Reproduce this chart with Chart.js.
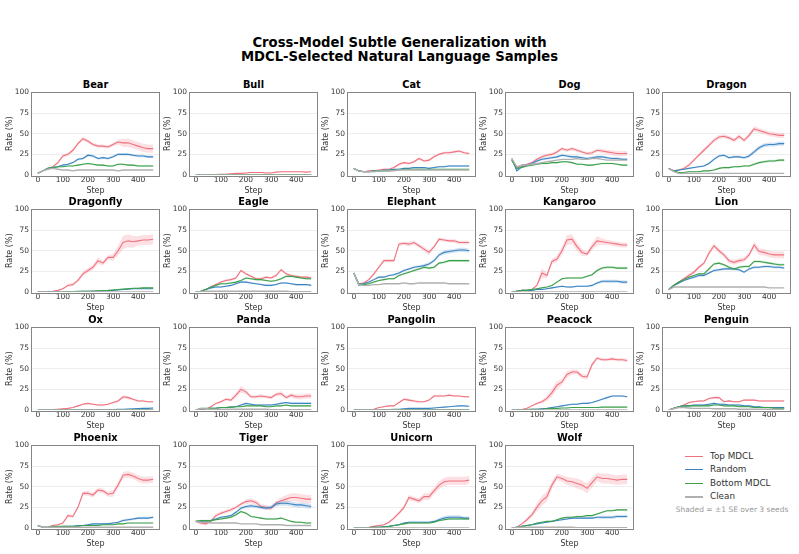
<!DOCTYPE html>
<html><head><meta charset="utf-8">
<script src="https://cdn.jsdelivr.net/npm/chart.js@4/dist/chart.umd.min.js"></script>
<style>
body{margin:0;background:#fff;width:799px;height:554px;position:relative;overflow:hidden;font-family:"DejaVu Sans",sans-serif;}
#title{position:absolute;left:0;width:799px;top:36px;text-align:center;font-weight:bold;font-size:13.2px;line-height:14px;color:#000;}
.pt{position:absolute;width:127px;height:12px;line-height:12px;text-align:center;font-weight:bold;font-size:9.8px;color:#000;white-space:nowrap;}
canvas{position:absolute;}
.lg{position:absolute;left:685px;height:12px;line-height:12px;font-size:8.8px;color:#333;white-space:nowrap;}
.lg span{position:absolute;left:0;top:6px;width:18px;height:1px;}
.lg b{font-weight:normal;position:absolute;left:25px;top:0;}
#note{position:absolute;left:660px;width:144px;top:505px;text-align:center;font-size:7.5px;color:#999;white-space:nowrap;}
</style></head>
<body>
<div id="title">Cross-Model Subtle Generalization with<br>MDCL-Selected Natural Language Samples</div>
<div class="lg" style="top:450px"><span style="background:#f0727f"></span><b>Top MDCL</b></div>
<div class="lg" style="top:463px"><span style="background:#3a84c4"></span><b>Random</b></div>
<div class="lg" style="top:477px"><span style="background:#3aa04a"></span><b>Bottom MDCL</b></div>
<div class="lg" style="top:490px"><span style="background:#b0b0b0;height:2px"></span><b>Clean</b></div>
<div id="note">Shaded = ±1 SE over 3 seeds</div>
<script>
const animals = ['Bear','Bull','Cat','Dog','Dragon','Dragonfly','Eagle','Elephant','Kangaroo','Lion','Ox','Panda','Pangolin','Peacock','Penguin','Phoenix','Tiger','Unicorn','Wolf'];
const steps = [0,20,40,60,80,100,120,140,160,180,200,220,240,260,280,300,320,340,360,380,400,420,440,460];
const xTicks = [0,100,200,300,400];
const yTicks = [0,25,50,75,100];

const topMDCL = [
[2,5,8,10,15,23,25,30,38,44,41,37,35,35,34,37,40,39,39,37,35,33,32,32],
[0,0,0,0,0.5,1,1,1.5,2,2,2.5,3,3,3,2.5,2.5,3.5,4,4,4,4,4,3.5,4],
[8,5,4,5,5,6,7,7,9,13,15,14,16,20,17,18,22,25,27,27,28,29,27,26],
[18,8,12,13,15,19,22,24,25,28,32,30,32,30,28,26,27,30,29,28,27,26,26,26],
[8,5,6,8,12,18,24,30,36,42,46,47,45,42,47,42,48,56,54,52,50,49,48,48],
[0,0,0.5,1,2,4,8,9,14,22,26,30,38,35,42,42,50,60,62,61,62,63,63,64],
[0,1,3,6,9,12,14,15,17,26,22,19,16,16,18,17,20,27,22,20,19,18,18,17],
[23,10,11,15,22,30,38,38,38,58,59,58,60,56,52,48,55,64,63,62,62,60,60,60],
[0,1,2,2,3,8,23,20,37,40,50,63,64,55,48,46,55,62,61,60,59,58,57,57],
[3,8,12,16,20,24,30,35,47,56,50,45,38,36,38,39,45,57,49,48,46,45,45,45],
[0,0,0,0.5,1,1.5,2,3,5,7,8,7,6,6,7,9,11,16,15,13,11,11,10,10],
[0,0.5,1,4,8,10,13,12,18,25,22,16,16,17,16,15,19,20,15,18,16,16,17,17],
[0,0,0,0.5,1,3,4,5,5,9,13,12,11,10,10,12,17,17,17,18,17,17,16,16],
[0,0,0.5,2,5,8,10,14,21,30,34,43,46,46,41,40,55,63,61,61,62,61,61,60],
[0,2,4,6,9,10,11,11,14,15,15,10,11,10,10,12,12,12,11,11,11,11,11,11],
[3,1,1,3,4,6,15,14,25,42,42,40,46,45,41,42,52,64,65,63,60,58,58,59],
[8,6,5,8,15,18,20,22,25,29,32,33,31,26,25,24,30,33,35,37,37,36,35,35],
[0,0,0.5,1,2,3,4,7,12,18,25,37,35,33,38,38,45,52,56,57,57,57,57,58],
[0,1,5,10,16,25,33,38,52,62,60,57,56,54,52,48,55,62,60,60,59,58,59,59]
];
const randomSel = [
[2,5,8,9,10,12,13,15,19,20,24,23,20,21,20,22,25,25,25,24,23,23,22,22],
[0,0,0,0,0,0,0,0,0.3,0.3,0.3,0.3,0.3,0.3,0.3,0.3,0.3,0.3,0.3,0.3,0.3,0.3,0.3,0.3],
[8,5,4,4,5,5,6,6,7,7,8,8,9,9,9,8,9,10,10,11,11,11,11,11],
[20,5,10,12,14,17,19,20,21,22,24,23,22,22,21,20,21,22,22,21,20,20,19,19],
[8,5,6,7,8,9,10,11,14,19,23,24,21,22,22,21,23,28,33,36,37,37,38,38],
[0,0,0,0,0,0,0.3,0.5,0.5,0.8,1,1,1,1.2,1.5,2,2.5,3,3.5,4,4,4,4,4],
[0,1,3,5,6,6,7,8,10,12,12,11,10,9,8,8,9,11,11,10,9,9,9,8],
[23,8,10,12,15,18,18,20,21,23,26,28,30,31,32,34,38,45,48,49,50,51,51,50],
[0,1,2,2,2,3,3,4,5,6,7,6,6,7,7,7,8,11,13,13,13,13,12,12],
[3,8,11,14,16,18,20,20,23,26,27,28,28,28,27,24,28,30,30,31,31,30,30,29],
[0,0,0,0,0,0,0,0,0,0,0,0,0.2,0.3,0.4,0.5,0.8,1,1.2,1.5,1.8,2,2,2.5],
[0,1,1.5,2,2,3,3,3.5,4,6,8,7,6,6,6,6,7,8,9,8,8,8,8,8],
[0,0,0,0,0,0,0.5,0.5,1,1,1.5,2,2,2,2,2,2.5,3,3.5,4,4.5,5,5,4.5],
[0,0,0,0.5,1,1,1.5,2,3,4,5,6,7,7,8,8,9,11,13,15,17,17,17,16],
[0,2,4,5,5,6,6,6,7,8,7,7,6,6,6,5,5,4,4,3,3,3,3,3],
[3,1,1,1,1,2,2,2,3,3,4,5,5,5,5,6,7,9,10,11,12,12,12,13],
[8,8,8,9,11,13,14,15,19,24,26,27,26,25,24,25,29,30,30,29,28,28,27,26],
[0,0,0,0.5,1,1,1.5,2,3,4,6,7,7,7,7,7,8,10,12,13,13,13,12,12],
[0,1,2,3,4,5,6,7,8,9,10,11,12,12,12,12,12,13,13,13,13,14,14,14]
];
const bottomMDCL = [
[2,5,8,9,10,10,11,11,12,13,14,13,12,12,11,11,13,13,12,12,11,11,11,11],
[0,0,0,0.2,0.3,0.4,0.5,0.5,0.5,0.5,0.5,0.5,0.5,0.5,0.5,0.5,0.5,0.5,0.5,0.5,0.5,0.5,0.5,0.5],
[8,5,4,4,5,5,5,5,6,6,7,7,7,7,7,7,7,7,7,7,7,7,7,7],
[18,8,9,11,12,13,14,14,15,15,16,16,15,13,13,12,12,13,14,14,14,13,12,12],
[8,5,3,3,4,4,4,5,5,6,8,9,9,10,10,11,11,13,15,16,17,17,18,18],
[0,0,0,0,0,0,0.3,0.5,0.8,1,1,1.2,1.5,1.8,2,2.5,3,3.5,4,4.5,4.5,5,5,5],
[0,1,3,6,8,10,10,11,12,14,17,16,15,15,14,13,14,16,19,19,18,17,16,16],
[23,10,9,10,12,14,15,16,16,20,22,24,26,28,30,29,30,35,36,38,38,38,38,38],
[0,1,2,2,3,4,5,6,8,12,16,17,17,17,17,19,21,26,29,30,30,29,29,29],
[3,8,12,15,18,20,22,22,28,34,35,33,30,28,30,31,31,37,37,36,35,34,33,33],
[0,0,0,0,0.2,0.3,0.3,0.3,0.3,0.3,0.3,0.3,0.3,0.3,0.3,0.3,0.3,0.3,0.3,0.3,0.3,0.3,0.3,0.3],
[0,2,2,2,2,3,3,3.5,4,4,5,5,5,5,4,4,5,5,6,5,5,5,5,5],
[0,0,0,0,0,0,0.3,0.3,0.5,0.5,0.5,0.5,0.5,0.5,0.5,0.5,0.5,0.5,0.5,0.5,0.5,0.5,0.5,0.5],
[0,0,0,0.5,1,1,1,1.5,2,2,2.5,2.5,3,3,3,3,3,3,3.5,3.5,3.5,3.5,3.5,3.5],
[0,2,4,5,5,5,5,5,5,6,6,5,5,5,4,4,4,3,3,3,3,2,2,2],
[3,1,1,2,2,2,2,2,2,3,3,3,3,4,4,4,5,5,6,6,6,6,6,6],
[8,9,9,9,10,11,12,13,16,20,18,14,13,12,11,11,11,12,10,8,7,7,6,6],
[0,0,0,0.5,1,1,1.5,2,3,4,5,6,6,6,6,6,7,9,10,11,11,11,11,11],
[0,1,2,3,4,6,7,8,8,10,12,13,13,14,14,15,15,17,19,21,21,22,22,22]
];
const cleanRun = [
[2,5,7,8,7,6,6,5,6,6,6,6,6,6,6,6,5,6,6,6,6,6,6,6],
[0,0,0,0,0,0,0,0,0,0,0,0,0,0,0,0,0,0,0,0,0,0,0,0],
[8,5,4,4,4,5,5,5,5,6,6,6,6,6,6,6,6,6,6,6,6,6,6,6],
[20,10,12,12,13,14,15,16,17,18,19,19,19,20,19,19,20,20,19,18,18,18,18,18],
[8,4,2,2,2,2,2,2,2,2,2,2,2,2,2,2,2,2,2,2,2,2,2,2],
[0,0,0,0,0,0,0,0,0,0,0,0,0,0,0,0,0,0,0,0,0,0,0,0],
[0,0.5,1,1,1,1,1,1,1,1,1,1,1,1,1,1,1,1,1,0.5,0.5,0.5,0.5,0.5],
[23,9,8,8,9,9,10,10,10,10,11,10,10,11,11,11,11,11,11,10,10,10,10,10],
[0,0,0,0,0,0,0,0,0,0,0,0,0,0,0,0,0,0,0,0,0,0,0,0],
[3,6,6,6,6,6,6,6,6,6,6,6,6,6,6,6,6,6,6,6,5,5,5,5],
[0,0,0,0,0,0,0,0,0,0,0,0,0,0,0,0,0,0,0,0,0,0,0,0],
[0,1.5,1.5,1,1,1,1,1,1,1,1,1,1,1,1,0.5,0.5,0.5,0.5,0.5,0.5,0.5,0.5,0.5],
[0,0,0,0,0,0,0,0,0,0,0,0,0,0,0,0,0,0,0,0,0,0,0,0],
[0,0,0,0,0,0,0,0,0,0,0,0,0,0,0,0,0,0,0,0,0,0,0,0],
[0,1.5,3,3,2.5,2,2,2,2,1.5,1.5,1.5,1.5,1.5,1,1,1,1,1,1,1,1,1,1],
[3,1,1,1,1,1,1,1,1,1,1,1,1,1,1,1,1,1,1,1,1,1,1,1],
[8,7,7,6,6,6,6,6,6,5,5,5,5,4,4,4,4,4,3,3,3,3,3,3],
[0,0,0,0,0,0,0,0,0,0,0,0,0,0,0,0,0,0,0,0,0,0,0,0],
[0,1,1,1,1,1,1,1,1,1,1,1,1,0.5,0.5,0.5,0.5,0.5,0.5,0.5,0.5,0.5,0.5,0.5]
];
const seTop = [
[0,0.5,1,1,1.5,2,2,2,2,2,2,2,2,2,2,2,3,5,5,5,5,5,5,5],
[0,0,0,0,0.3,0.5,0.5,0.5,0.5,0.5,0.5,0.5,0.5,0.5,0.5,0.5,0.5,0.5,0.5,0.5,0.5,0.5,0.5,0.5],
[0.5,0.5,0.5,0.5,0.5,1,1,1,1,1.5,1.5,1.5,1.5,1.5,1.5,1.5,1.5,1.5,1.5,1.5,1.5,1.5,1.5,1.5],
[1,1,1,1,1.5,1.5,2,2,2,2,2,2,2,2,2,2,2,2,2.5,2.5,3,3,3,3],
[1,1,1,1.5,2,2,2,2.5,2.5,2.5,2.5,2.5,2.5,2.5,2.5,2.5,3,3,3,3,3,3,3,3],
[0,0,0,0,0.5,1,2,2,2,3,3,3,4,3,3,4,6,8,8,7,6,6,6,6],
[0,0.5,0.5,1,1,1,1.5,1.5,1.5,1.5,1.5,1.5,1.5,1.5,1.5,1.5,1.5,1.5,1.5,1.5,1.5,1.5,1.5,1.5],
[1,1,1.5,1.5,2,2,2,2,2,2,2,2.5,2.5,2.5,3,3,2,2,2,2,2,2,2,2],
[0,0,0,0,0.5,1,6,3,3,4,5,6,6,5,4,3,4,6,4,3,3,3,3,3],
[0.5,1,1,1.5,2,2,2,2,3,3,3,3,3,3,3,3,3,4,4,4,4,4,4,4],
[0,0,0,0,0.5,0.5,0.5,0.5,0.5,1,1,1,1,1,1,1,1.5,2,2,1.5,1,1,1,1],
[0,0.5,0.5,1,1,1.5,1.5,2,3,4,3,2,2,2,2,2,2,3,2,2.5,3,3,3,3],
[0,0,0,0,0.5,0.5,0.5,0.5,0.5,1,1.5,1.5,1.5,1,1,1,1.5,1.5,1,1,1,1,1,1],
[0,0,0,0.5,1,1,2,3,5,5,4,4,3,3,3,3,3,2,2,2,2,2,2,2],
[0,0.5,0.5,1,1,1,1,1,1,1.5,1.5,1,1,1,1,1,1,1,1,1,1,1,1,1],
[1,0.5,0.5,1,1,1,2,2,2,3,3,3,3,3,3,4,4,4,4,4,4,4,4,4],
[1,2,2,2,2,2,2,2,2,2,3,3,3,3,3,3,3,4,5,5,5,5,5,5],
[0,0,0,0,1,1,1,1,2,2,3,3,3,3,4,4,4,5,5,5,5,5,5,5],
[0,0.5,1,2,3,5,6,6,5,4,4,5,5,6,6,6,6,5,6,6,6,6,6,6]
];
const seRandom = [
[0,0.5,0.5,1,1,1,1,1,1.5,1.5,1.5,1.5,1.5,1.5,1.5,1.5,1.5,1.5,1.5,1.5,1.5,1.5,1.5,1.5],
[0,0,0,0,0,0,0,0,0.2,0.2,0.2,0.2,0.2,0.2,0.2,0.2,0.2,0.2,0.2,0.2,0.2,0.2,0.2,0.2],
[0.5,0.5,0.5,0.5,0.5,0.5,0.5,0.5,0.8,0.8,0.8,0.8,0.8,0.8,0.8,0.8,1,1,1,1,1,1,1,1],
[1,1,1,1,1,1.5,1.5,1.5,1.5,1.5,1.5,1.5,1.5,1.5,1.5,1.5,1.5,1.5,1.5,1.5,1.5,1.5,1.5,1.5],
[0.5,0.5,0.5,0.5,0.5,1,1,1,1.5,1.5,1.5,1.5,1.5,1.5,1.5,1.5,2,2.5,2.5,2.5,2.5,2.5,2.5,2.5],
[0,0,0,0,0,0,0.2,0.2,0.2,0.3,0.3,0.3,0.3,0.3,0.3,0.3,0.3,0.3,0.3,0.3,0.3,0.3,0.3,0.3],
[0,0.5,0.5,1,1,1,1,1,1,1,1,1,1,1,1,1,1,1,1,1,1,1,1,1],
[1,1,1,1,1,1,1,1,1.5,1.5,1.5,1.5,1.5,1.5,2,2,2,2,2.5,2.5,2.5,2.5,2.5,2.5],
[0,0.5,0.5,0.5,0.5,0.5,0.5,0.5,1,1,1,1,1,1,1,1,1,1.5,2,2,2,2,2,2],
[0.5,1,1,1,1,1.5,1.5,1.5,1.5,1.5,1.5,1.5,1.5,1.5,1.5,1.5,1.5,1.5,1.5,1.5,1.5,1.5,1.5,1.5],
[0,0,0,0,0,0,0,0,0,0,0,0,0.2,0.2,0.2,0.3,0.3,0.3,0.3,0.3,0.3,0.3,0.3,0.3],
[0,0.5,0.5,0.5,0.5,0.5,0.5,0.5,0.5,1,1,1,1,1,1,1,1,1,1,1,1,1,1,1],
[0,0,0,0,0,0,0.3,0.3,0.3,0.3,0.5,0.5,0.5,0.5,0.5,0.5,0.5,0.5,0.5,0.5,0.5,0.5,0.5,0.5],
[0,0,0,0.3,0.5,0.5,0.5,0.5,0.5,0.5,0.8,0.8,0.8,0.8,0.8,0.8,0.8,0.8,1,1,1,1,1,1],
[0,0.5,0.5,1,1,1,1,1,1,1,1,1,1,1,1,1,1,1,1,1,1,1,1,1],
[0.5,0.5,0.5,0.5,0.5,0.5,0.5,0.5,0.5,0.5,0.8,1,1,1,1,1,1,1.5,1.5,1.5,1.5,1.5,1.5,1.5],
[1,1,1,1,1,1,1,1,1.5,2,2,2,2,2,2,2,3,3,3,3,3,3,3,3],
[0,0,0,0.3,0.5,0.5,0.5,0.5,0.5,0.8,1,1,1,1,1,1,1,2,2.5,2.5,2.5,2.5,2,2],
[0,0.5,0.5,0.5,0.5,0.5,0.5,0.5,0.5,1,1,1,1,1,1,1,1,1.5,2,2,2,2,2,2]
];
const seBottom = [
[0,0.5,0.5,0.5,0.5,0.5,0.5,0.5,0.8,0.8,1,1,1,1,1,1,1,1,1,1,1,1,1,1],
[0,0,0,0,0.2,0.2,0.2,0.2,0.2,0.2,0.2,0.2,0.2,0.2,0.2,0.2,0.2,0.2,0.2,0.2,0.2,0.2,0.2,0.2],
[0.5,0.5,0.5,0.5,0.5,0.5,0.5,0.5,0.5,0.5,0.5,0.5,0.5,0.5,0.5,0.5,0.5,0.5,0.5,0.5,0.5,0.5,0.5,0.5],
[1,1,1,1,1,1,1,1,1,1,1,1,1,1,1,1,1,1,1,1,1,1,1,1],
[0.5,0.5,0.5,0.5,0.5,0.5,0.5,0.5,0.5,0.8,1,1,1,1,1,1,1,1.5,1.5,1.5,1.5,1.5,1.5,1.5],
[0,0,0,0,0,0,0.2,0.2,0.3,0.3,0.3,0.3,0.3,0.3,0.5,0.5,0.5,0.5,0.8,0.8,0.8,0.8,0.8,0.8],
[0,0.5,0.5,1,1,1,1,1,1,1,1,1,1,1,1,1,1,1,1,1,1,1,1,1],
[1,1,1,1,1,1,1,1,1,1,1,1,1.5,1.5,1.5,1.5,1.5,1.5,1.5,1.5,1.5,1.5,1.5,1.5],
[0,0.5,0.5,0.5,0.5,0.5,0.5,0.5,0.8,1,1,1,1,1,1,1,1,1.5,1.5,1.5,1.5,1.5,1.5,1.5],
[0.5,1,1,1,1,1,1,1,1.5,1.5,1.5,1.5,1.5,1.5,1.5,1.5,1.5,1.5,1.5,1.5,1.5,1.5,1.5,1.5],
[0,0,0,0,0,0,0,0,0,0,0,0,0,0,0,0,0,0,0,0,0,0,0,0],
[0,0.5,0.5,0.5,0.5,0.5,0.5,0.5,0.5,0.5,0.5,0.5,0.5,0.5,0.5,0.5,0.5,0.5,0.8,0.8,0.8,0.8,0.8,0.8],
[0,0,0,0,0,0,0.2,0.2,0.2,0.2,0.2,0.2,0.2,0.2,0.2,0.2,0.2,0.2,0.2,0.2,0.2,0.2,0.2,0.2],
[0,0,0,0.2,0.3,0.3,0.3,0.3,0.3,0.3,0.3,0.3,0.3,0.3,0.3,0.3,0.3,0.3,0.3,0.3,0.3,0.3,0.3,0.3],
[0,0.5,0.5,0.5,0.5,0.5,0.5,0.5,0.5,0.5,0.5,0.5,0.5,0.5,0.5,0.5,0.5,0.5,0.5,0.5,0.5,0.5,0.5,0.5],
[0.5,0.3,0.3,0.3,0.3,0.3,0.3,0.3,0.3,0.5,0.5,0.5,0.5,0.5,0.5,0.5,0.5,0.5,0.5,0.5,0.5,0.5,0.5,0.5],
[1,1,1,1,1,1,1,1,1,1.5,1.5,1,1,1,1,1,1,1,1,1,1,1,1,1],
[0,0,0,0.3,0.5,0.5,0.5,0.5,0.5,0.8,1,1,1,1,1,1,1,1,1,1,1,1,1,1],
[0,0.5,0.5,0.5,0.5,0.5,0.8,0.8,0.8,1,1,1,1,1,1,1,1,1,1,1,1,1,1,1]
];

const COL = {top:'#f0727f', rnd:'#3a84c4', bot:'#3aa04a', cln:'#b0b0b0'};
const BAND = {top:'rgba(240,114,127,0.22)', rnd:'rgba(58,132,196,0.22)', bot:'rgba(58,160,74,0.22)'};
const colLeft = [32,190,348,506,663];
const rowTop = [91,208,326,444];
const PW = 127, PH = 84, YW = 30, XH = 22, PADT = 6, PADR = 4;
const FONT = 'DejaVu Sans';

const spines = {
  id:'spines',
  afterDatasetsDraw(c){
    const a=c.chartArea, ctx=c.ctx;
    ctx.save(); ctx.strokeStyle='#858585'; ctx.lineWidth=1;
    ctx.strokeRect(Math.round(a.left)-0.5, Math.round(a.top)-0.5, Math.round(a.right-a.left)+1, Math.round(a.bottom-a.top)+1);
    ctx.restore();
  }
};

function pts(v){ return steps.map((s,k)=>({x:s,y:v[k]})); }
function band(v,se,key){
  return [
    {data:steps.map((s,k)=>({x:s,y:v[k]+se[k]})), borderWidth:0, pointRadius:0, fill:false, backgroundColor:'rgba(0,0,0,0)'},
    {data:steps.map((s,k)=>({x:s,y:Math.max(0,v[k]-se[k])})), borderWidth:0, pointRadius:0, fill:'-1', backgroundColor:BAND[key]}
  ];
}
function line(v,key,w){
  return {data:pts(v), borderColor:COL[key], borderWidth:w, pointRadius:0, fill:false, tension:0};
}

animals.forEach((name,i)=>{
  const col=i%5, row=Math.floor(i/5);
  const L=colLeft[col], T=rowTop[row];
  const t=document.createElement('div'); t.className='pt'; t.textContent=name;
  t.style.left=L+'px'; t.style.top=(T-12)+'px'; document.body.appendChild(t);
  const cv=document.createElement('canvas');
  const cw=YW+PW+PADR, ch=PADT+PH+XH;
  cv.width=cw; cv.height=ch; cv.style.width=cw+'px'; cv.style.height=ch+'px';
  cv.style.left=(L-YW)+'px'; cv.style.top=(T-PADT)+'px';
  document.body.appendChild(cv);
  const ds = [
    line(cleanRun[i],'cln',1.4),
    line(bottomMDCL[i],'bot',1.1),
    ...band(bottomMDCL[i],seBottom[i],'bot'),
    line(randomSel[i],'rnd',1.1),
    ...band(randomSel[i],seRandom[i],'rnd'),
    line(topMDCL[i],'top',1.1),
    ...band(topMDCL[i],seTop[i],'top')
  ];
  new Chart(cv,{
    type:'line',
    data:{datasets:ds},
    plugins:[spines],
    options:{
      responsive:false, animation:false, devicePixelRatio:1,
      layout:{padding:{top:PADT,right:PADR,left:0,bottom:0}},
      plugins:{legend:{display:false},title:{display:false},tooltip:{enabled:false}},
      scales:{
        x:{type:'linear',min:-23,max:483,
          afterBuildTicks:s=>{s.ticks=xTicks.map(v=>({value:v}));},
          afterFit:s=>{s.height=XH;},
          ticks:{font:{family:FONT,size:7.5},color:'#333',padding:1,maxRotation:0,autoSkip:false},
          grid:{display:false,drawTicks:false},border:{display:false},
          title:{display:true,text:'Step',font:{family:FONT,size:8},color:'#333',padding:{top:0,bottom:1.2}}},
        y:{min:0,max:100,
          afterBuildTicks:s=>{s.ticks=yTicks.map(v=>({value:v}));},
          afterFit:s=>{s.width=YW;},
          ticks:{font:{family:FONT,size:7.5},color:'#333',padding:3},
          grid:{drawTicks:false,lineWidth:1,color:c=>(c.tick&&c.tick.value>0&&c.tick.value<100)?'rgba(0,0,0,0.07)':'rgba(0,0,0,0)'},
          border:{display:false},
          title:{display:true,text:'Rate (%)',font:{family:FONT,size:8},color:'#333',padding:{top:2.7,bottom:0}}}
      }
    }
  });
});
</script>
</body></html>
